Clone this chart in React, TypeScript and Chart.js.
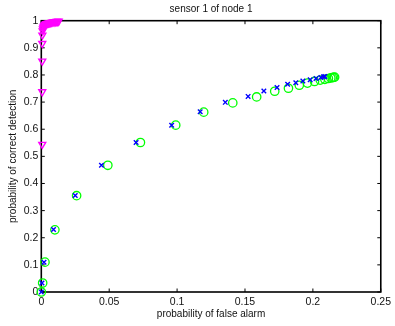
import React, { useEffect, useRef } from "react";
import { Chart, registerables } from "chart.js";

Chart.register(...registerables);

const titleText = "sensor 1 of node 1";
const xAxisTitle = "probability of false alarm";
const yAxisTitle = "probability of correct detection";

const xTickValues = [0, 0.05, 0.1, 0.15, 0.2, 0.25];
const xTickLabels = ["0", "0.05", "0.1", "0.15", "0.2", "0.25"];
const yTickValues = [0, 0.1, 0.2, 0.3, 0.4, 0.5, 0.6, 0.7, 0.8, 0.9, 1];
const yTickLabels = ["0", "0.1", "0.2", "0.3", "0.4", "0.5", "0.6", "0.7", "0.8", "0.9", "1"];

const blueX = [0, 0.0005, 0.002, 0.009, 0.025, 0.0443, 0.0698, 0.096, 0.117, 0.1355, 0.1523, 0.1639, 0.1736, 0.1814, 0.1874, 0.1926, 0.198, 0.2023, 0.2059, 0.2078, 0.2088];
const blueY = [0, 0.033, 0.11, 0.23, 0.356, 0.467, 0.551, 0.615, 0.664, 0.699, 0.721, 0.741, 0.754, 0.766, 0.771, 0.778, 0.782, 0.787, 0.791, 0.793, 0.794];

const greenX = [0, 0.001, 0.0027, 0.01, 0.026, 0.049, 0.073, 0.099, 0.1196, 0.141, 0.1586, 0.1719, 0.182, 0.19, 0.196, 0.2012, 0.2054, 0.2088, 0.2114, 0.2132, 0.2143, 0.2153, 0.216];
const greenY = [0, 0.033, 0.11, 0.229, 0.355, 0.467, 0.551, 0.615, 0.663, 0.697, 0.719, 0.74, 0.751, 0.762, 0.77, 0.776, 0.781, 0.784, 0.787, 0.789, 0.79, 0.791, 0.792];

const magentaX = [0.0007, 0.0007, 0.0007, 0.0007, 0.0008, 0.001, 0.0012, 0.0015, 0.0018, 0.0022, 0.0026, 0.003, 0.0035, 0.004, 0.0046, 0.0053, 0.006, 0.0068, 0.0076, 0.0085, 0.0094, 0.0103, 0.0112, 0.012, 0.0128];
const magentaY = [0.544, 0.738, 0.851, 0.916, 0.947, 0.962, 0.97, 0.975, 0.979, 0.982, 0.984, 0.986, 0.988, 0.989, 0.99, 0.991, 0.992, 0.993, 0.994, 0.995, 0.995, 0.996, 0.997, 0.997, 0.998];

const toPoints = (xs: number[], ys: number[]) => xs.map((x, i) => ({ x, y: ys[i] }));

const framePlugin = {
  id: "matlabFrame",
  beforeDatasetsDraw(chart: any) {
    const { ctx, chartArea } = chart;
    const { left, right, top, bottom } = chartArea;
    const xs = chart.scales.x;
    const ys = chart.scales.y;
    ctx.save();
    ctx.strokeStyle = "#000";
    ctx.lineWidth = 1.6;
    ctx.strokeRect(left, top, right - left, bottom - top);
    ctx.lineWidth = 1;
    const tl = 3.5;
    ctx.beginPath();
    xTickValues.forEach((v) => {
      const px = xs.getPixelForValue(v);
      ctx.moveTo(px, bottom);
      ctx.lineTo(px, bottom - tl);
      ctx.moveTo(px, top);
      ctx.lineTo(px, top + tl);
    });
    yTickValues.forEach((v) => {
      const py = ys.getPixelForValue(v);
      ctx.moveTo(left, py);
      ctx.lineTo(left + tl, py);
      ctx.moveTo(right, py);
      ctx.lineTo(right - tl, py);
    });
    ctx.stroke();
    ctx.restore();
  },
};

export default function App() {
  const ref = useRef<HTMLCanvasElement | null>(null);
  useEffect(() => {
    if (!ref.current) return;
    const font = { family: "'Liberation Sans', Arial, Helvetica, sans-serif", size: 10.5 };
    const titleFont = { family: "'Liberation Sans', Arial, Helvetica, sans-serif", size: 10 };
    const chart = new Chart(ref.current, {
      type: "scatter",
      data: {
        datasets: [
          {
            label: "magenta",
            data: toPoints(magentaX, magentaY),
            pointStyle: "triangle",
            rotation: 180,
            radius: 4,
            borderColor: "#ff00ff",
            backgroundColor: "rgba(0,0,0,0)",
            borderWidth: 1.4,
            order: 3,
          },
          {
            label: "green",
            data: toPoints(greenX, greenY),
            pointStyle: "circle",
            radius: 4.2,
            borderColor: "#00ff00",
            backgroundColor: "rgba(0,0,0,0)",
            borderWidth: 1.3,
            order: 2,
          },
          {
            label: "blue",
            data: toPoints(blueX, blueY),
            pointStyle: "crossRot",
            radius: 3.2,
            borderColor: "#0000ff",
            backgroundColor: "#0000ff",
            borderWidth: 1.4,
            order: 1,
          },
        ] as any,
      },
      options: {
        animation: false,
        responsive: true,
        maintainAspectRatio: false,
        clip: false as any,
        layout: { padding: { left: 0, right: 8, top: 0, bottom: 0 } },
        plugins: {
          legend: { display: false },
          tooltip: { enabled: false },
          title: {
            display: true,
            text: titleText,
            fullSize: false,
            color: "#111",
            font: { ...titleFont, weight: "normal" },
            padding: { top: 3, bottom: 5.7 },
          },
        },
        scales: {
          x: {
            type: "linear",
            min: 0,
            max: 0.25,
            afterBuildTicks: (scale: any) => {
              scale.ticks = xTickValues.map((v) => ({ value: v }));
            },
            afterFit: (scale: any) => {
              scale.height = 34;
            },
            grid: { display: false, drawTicks: false },
            border: { display: false },
            ticks: {
              color: "#111",
              font,
              padding: 4,
              maxRotation: 0,
              autoSkip: false,
              callback: (v: any) => {
                const i = xTickValues.findIndex((t) => Math.abs(t - Number(v)) < 1e-9);
                return i >= 0 ? xTickLabels[i] : "";
              },
            },
            title: {
              display: true,
              text: xAxisTitle,
              color: "#111",
              font: titleFont,
              padding: { top: 0, bottom: 6 },
            },
          },
          y: {
            type: "linear",
            min: 0,
            max: 1,
            afterBuildTicks: (scale: any) => {
              scale.ticks = yTickValues.map((v) => ({ value: v }));
            },
            afterFit: (scale: any) => {
              scale.width = 41.3;
            },
            grid: { display: false, drawTicks: false },
            border: { display: false },
            ticks: {
              color: "#111",
              font,
              padding: 3,
              autoSkip: false,
              callback: (v: any) => {
                const i = yTickValues.findIndex((t) => Math.abs(t - Number(v)) < 1e-9);
                return i >= 0 ? yTickLabels[i] : "";
              },
            },
            title: {
              display: true,
              text: yAxisTitle,
              color: "#111",
              font: titleFont,
              padding: { top: 7, bottom: 0 },
            },
          },
        },
      },
      plugins: [framePlugin],
    });
    return () => chart.destroy();
  }, []);
  return (
    <div style={{ position: "absolute", left: 0, top: 0, width: 395, height: 326, background: "#fff" }}>
      <canvas ref={ref} />
    </div>
  );
}
